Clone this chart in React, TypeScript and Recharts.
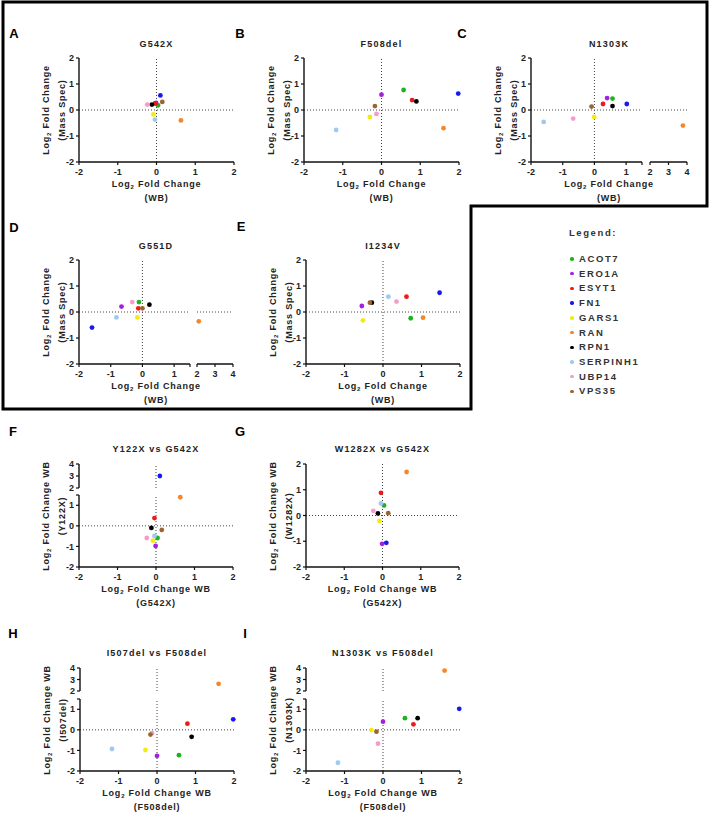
import React from "react";
import { ScatterChart, Scatter, XAxis, YAxis, ReferenceLine } from "recharts";

const FONT = "'Liberation Sans', Arial, sans-serif";

const proteins = ["ACOT7", "ERO1A", "ESYT1", "FN1", "GARS1", "RAN", "RPN1", "SERPINH1", "UBP14", "VPS35"];
const colors = ["#1fb21f", "#a51fe0", "#f01818", "#1818f0", "#f2ea14", "#f5862a", "#000000", "#9fc9f2", "#f59ccb", "#9c6530"];

// log2 fold change per protein, same order as proteins
const g542xWB = [0.04, -0.01, -0.04, 0.1, -0.08, 0.63, -0.12, -0.04, -0.24, 0.15];
const g542xMS = [0.18, 0.27, 0.25, 0.56, -0.17, -0.4, 0.21, -0.37, 0.21, 0.31];
const f508delWB = [0.57, 0.0, 0.79, 1.98, -0.3, 1.6, 0.9, -1.17, -0.13, -0.17];
const f508delMS = [0.77, 0.59, 0.38, 0.63, -0.27, -0.7, 0.33, -0.77, -0.15, 0.15];
const n1303kWB = [0.57, 0.4, 0.27, 1.02, -0.01, 3.78, 0.57, -1.6, -0.67, -0.09];
const n1303kMS = [0.44, 0.46, 0.23, 0.23, -0.27, -0.6, 0.15, -0.46, -0.33, 0.13];
const g551dWB = [-0.11, -0.66, -0.13, -1.59, -0.16, 2.1, 0.22, -0.82, -0.32, 0.0];
const g551dMS = [0.38, 0.21, 0.14, -0.6, -0.21, -0.36, 0.28, -0.21, 0.38, 0.14];
const i1234vWB = [0.72, -0.55, 0.61, 1.47, -0.52, 1.04, -0.29, 0.14, 0.35, -0.34];
const i1234vMS = [-0.24, 0.23, 0.59, 0.74, -0.32, -0.22, 0.36, 0.59, 0.4, 0.36];
const y122xWB = [-0.59, -0.98, 0.38, 3.0, -0.72, 1.39, -0.1, -0.49, -0.59, -0.2];
const w1282xWB = [0.39, -1.1, 0.88, -1.06, -0.21, 1.69, 0.08, 0.47, 0.18, 0.09];
const i507delWB = [-1.23, -1.26, 0.3, 0.51, -0.98, 2.62, -0.34, -0.93, -0.16, -0.23];

const fullTicks = [-2, -1, 0, 1, 2];
const lowTicks = [-2, -1, 0, 1, 1.5];
const highTicks = [2, 3, 4];

type Pt = { x: number; y: number; c: string };
const pts = (xs: number[], ys: number[]): Pt[] => xs.map((x, i) => ({ x, y: ys[i], c: colors[i] }));

const axisLine = { stroke: "#111", strokeWidth: 1.4 };
const tickLine = { stroke: "#111", strokeWidth: 1.2 };
const tickStyle = { fontSize: 9, fontWeight: 700, fill: "#222", fontFamily: FONT };
const fmt = (v: number) => (v === 1.5 ? "" : String(v));

function Seg({ x0, x1, y0, y1, xd, yd, xt, yt, data, showX = true, showY = true }: any) {
  const L = showY ? 30 : 6;
  const B = showX ? 16 : 6;
  const T = 6;
  const R = 8;
  return (
    <div style={{ position: "absolute", left: x0 - L, top: y0 - T }}>
      <ScatterChart
        width={x1 - x0 + L + R}
        height={y1 - y0 + T + B}
        margin={{ top: T, right: R, bottom: showX ? 0 : B, left: showY ? 0 : L }}
      >
        <XAxis
          type="number"
          dataKey="x"
          domain={xd}
          ticks={xt}
          interval={0}
          hide={!showX}
          height={showX ? B : 0}
          axisLine={axisLine}
          tickLine={tickLine}
          tick={tickStyle}
          tickSize={3}
          tickMargin={4}
          tickFormatter={fmt}
        />
        <YAxis
          type="number"
          dataKey="y"
          domain={yd}
          ticks={yt}
          interval={0}
          hide={!showY}
          width={showY ? L : 0}
          axisLine={axisLine}
          tickLine={tickLine}
          tick={tickStyle}
          tickSize={3}
          tickMargin={2}
          tickFormatter={fmt}
        />
        {xd[0] <= 0 && xd[1] >= 0 && <ReferenceLine x={0} stroke="#444" strokeDasharray="1 2" />}
        {yd[0] <= 0 && yd[1] >= 0 && <ReferenceLine y={0} stroke="#444" strokeDasharray="1 2" />}
        <Scatter
          data={data}
          isAnimationActive={false}
          shape={(p: any) => <circle cx={p.cx} cy={p.cy} r={2.4} fill={p.payload.c} />}
        />
      </ScatterChart>
    </div>
  );
}

function Txt({ x, y, size = 9, bold = true, ls = 0, rot = false, left = false, color = "#222", children }: any) {
  const tr = left ? "translate(0, -50%)" : `translate(-50%, -50%)${rot ? " rotate(-90deg)" : ""}`;
  return (
    <div
      style={{
        position: "absolute",
        left: x,
        top: y,
        transform: tr,
        fontSize: size,
        fontWeight: bold ? 700 : 400,
        letterSpacing: ls,
        color,
        lineHeight: 1,
        whiteSpace: "nowrap",
        fontFamily: FONT,
      }}
    >
      {children}
    </div>
  );
}

const Log2 = ({ wb }: { wb: boolean }) => (
  <>
    Log<span style={{ fontSize: 6, position: "relative", top: 2 }}>2</span> Fold Change{wb ? " WB" : ""}
  </>
);

const panels = [
  { L: "A", lx: 14, ly: 33, title: "G542X", x0: 79, x1: 234, y0: 58, y1: 162, ty: 44, xl: "(WB)", yl: "(Mass Spec)", wb: false },
  { L: "B", lx: 240, ly: 33, title: "F508del", x0: 304, x1: 459, y0: 58, y1: 162, ty: 44, xl: "(WB)", yl: "(Mass Spec)", wb: false },
  { L: "C", lx: 462, ly: 33, title: "N1303K", x0: 531, x1: 687, y0: 58, y1: 162, ty: 44, xl: "(WB)", yl: "(Mass Spec)", wb: false },
  { L: "D", lx: 14, ly: 227, title: "G551D", x0: 79, x1: 233, y0: 260, y1: 364, ty: 246, xl: "(WB)", yl: "(Mass Spec)", wb: false },
  { L: "E", lx: 241, ly: 226, title: "I1234V", x0: 306, x1: 460, y0: 260, y1: 364, ty: 246, xl: "(WB)", yl: "(Mass Spec)", wb: false },
  { L: "F", lx: 13, ly: 431, title: "Y122X vs G542X", x0: 79, x1: 233, y0: 464, y1: 567, ty: 449, xl: "(G542X)", yl: "(Y122X)", wb: true },
  { L: "G", lx: 240, ly: 431, title: "W1282X vs G542X", x0: 306, x1: 459, y0: 464, y1: 567, ty: 449, xl: "(G542X)", yl: "(W1282X)", wb: true },
  { L: "H", lx: 13, ly: 633, title: "I507del vs F508del", x0: 80, x1: 234, y0: 668, y1: 771, ty: 653, xl: "(F508del)", yl: "(I507del)", wb: true },
  { L: "I", lx: 245, ly: 633, title: "N1303K vs F508del", x0: 306, x1: 460, y0: 668, y1: 771, ty: 653, xl: "(F508del)", yl: "(N1303K)", wb: true },
];

export default function App() {
  const dA = pts(g542xWB, g542xMS);
  const dB = pts(f508delWB, f508delMS);
  const dC = pts(n1303kWB, n1303kMS);
  const dD = pts(g551dWB, g551dMS);
  const dE = pts(i1234vWB, i1234vMS);
  const dF = pts(g542xWB, y122xWB);
  const dG = pts(g542xWB, w1282xWB);
  const dH = pts(f508delWB, i507delWB);
  const dI = pts(f508delWB, n1303kWB);
  const full = [-2, 2];

  return (
    <div style={{ position: "absolute", left: 0, top: 0, width: 711, height: 815, background: "#fff", fontFamily: FONT }}>
      <Seg x0={79} x1={234} y0={58} y1={162} xd={full} yd={full} xt={fullTicks} yt={fullTicks} data={dA} />
      <Seg x0={304} x1={459} y0={58} y1={162} xd={full} yd={full} xt={fullTicks} yt={fullTicks} data={dB} />
      <Seg x0={531} x1={642} y0={58} y1={162} xd={[-2, 1.5]} yd={full} xt={lowTicks} yt={fullTicks} data={dC.filter(p => p.x < 2)} />
      <Seg x0={650} x1={687} y0={58} y1={162} xd={[2, 4]} yd={full} xt={highTicks} yt={fullTicks} data={dC.filter(p => p.x >= 2)} showY={false} />
      <Seg x0={79} x1={190} y0={260} y1={364} xd={[-2, 1.5]} yd={full} xt={lowTicks} yt={fullTicks} data={dD.filter(p => p.x < 2)} />
      <Seg x0={197} x1={233} y0={260} y1={364} xd={[2, 4]} yd={full} xt={highTicks} yt={fullTicks} data={dD.filter(p => p.x >= 2)} showY={false} />
      <Seg x0={306} x1={460} y0={260} y1={364} xd={full} yd={full} xt={fullTicks} yt={fullTicks} data={dE} />
      <Seg x0={79} x1={233} y0={464} y1={488} xd={full} yd={[2, 4]} xt={fullTicks} yt={highTicks} data={dF.filter(p => p.y >= 2)} showX={false} />
      <Seg x0={79} x1={233} y0={495} y1={567} xd={full} yd={[-2, 1.5]} xt={fullTicks} yt={lowTicks} data={dF.filter(p => p.y < 2)} />
      <Seg x0={306} x1={459} y0={464} y1={567} xd={full} yd={full} xt={fullTicks} yt={fullTicks} data={dG} />
      <Seg x0={80} x1={234} y0={668} y1={691} xd={full} yd={[2, 4]} xt={fullTicks} yt={highTicks} data={dH.filter(p => p.y >= 2)} showX={false} />
      <Seg x0={80} x1={234} y0={699} y1={771} xd={full} yd={[-2, 1.5]} xt={fullTicks} yt={lowTicks} data={dH.filter(p => p.y < 2)} />
      <Seg x0={306} x1={460} y0={668} y1={691} xd={full} yd={[2, 4]} xt={fullTicks} yt={highTicks} data={dI.filter(p => p.y >= 2)} showX={false} />
      <Seg x0={306} x1={460} y0={699} y1={771} xd={full} yd={[-2, 1.5]} xt={fullTicks} yt={lowTicks} data={dI.filter(p => p.y < 2)} />

      {panels.map(p => {
        const cx = (p.x0 + p.x1) / 2;
        const cy = (p.y0 + p.y1) / 2;
        return (
          <React.Fragment key={p.L}>
            <Txt x={p.lx} y={p.ly} size={13} color="#000">{p.L}</Txt>
            <Txt x={cx} y={p.ty} ls={1.2}>{p.title}</Txt>
            <Txt x={cx} y={p.y1 + 22} ls={0.8}><Log2 wb={p.wb} /></Txt>
            <Txt x={cx} y={p.y1 + 36} ls={0.8}>{p.xl}</Txt>
            <Txt x={p.x0 - 33} y={cy} ls={0.8} rot><Log2 wb={p.wb} /></Txt>
            <Txt x={p.x0 - 17} y={cy} ls={0.8} rot>{p.yl}</Txt>
          </React.Fragment>
        );
      })}

      <Txt x={593} y={233} size={9.5} ls={1.6} color="#333">Legend:</Txt>
      {proteins.map((name, i) => (
        <React.Fragment key={name}>
          <div
            style={{
              position: "absolute",
              left: 570.2,
              top: 259 + i * 14.72 - 1.7,
              width: 3.4,
              height: 3.4,
              borderRadius: "50%",
              background: colors[i],
            }}
          />
          <Txt x={579} y={259 + i * 14.72} size={9.5} ls={1.6} color="#333" left>{name}</Txt>
        </React.Fragment>
      ))}

      <svg width={711} height={815} style={{ position: "absolute", left: 0, top: 0, pointerEvents: "none" }}>
        <polygon points="3,2 707,2 707,206 471,206 471,409 3,409" fill="none" stroke="#000" strokeWidth={3} />
      </svg>
    </div>
  );
}
